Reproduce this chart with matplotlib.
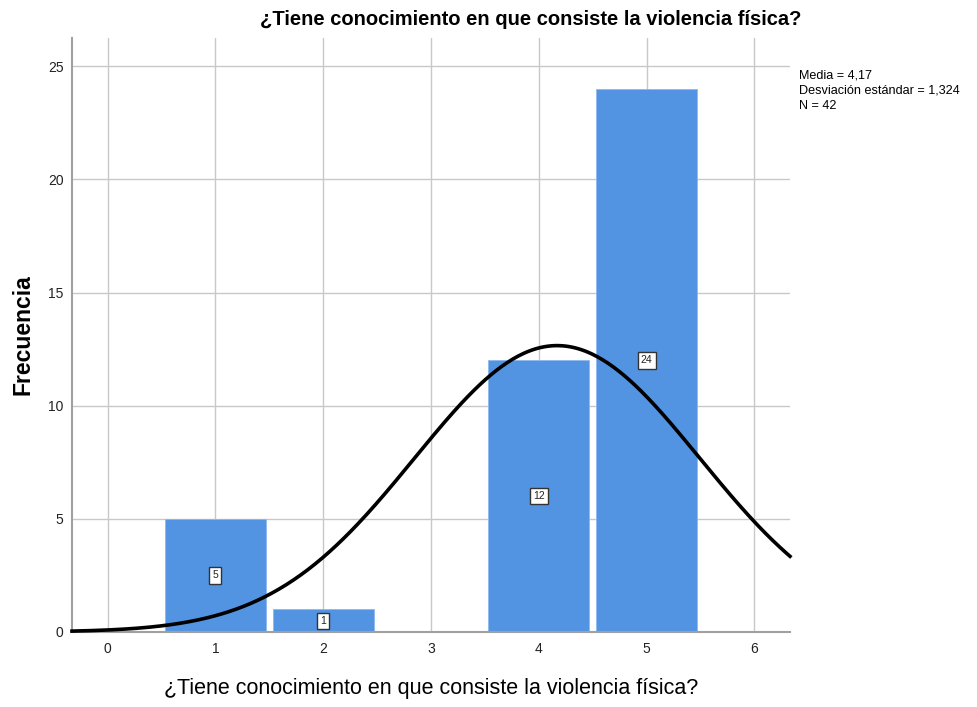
import numpy as np
import matplotlib.pyplot as plt

# Data: answer values and their frequencies
valores = [1, 2, 4, 5]
frecuencias = [5, 1, 12, 24]
media = 4.17
desv = 1.324
n = 42

titulo = "¿Tiene conocimiento en que consiste la violencia física?"

plt.rcParams["font.family"] = ["Liberation Sans", "DejaVu Sans"]

fig = plt.figure(figsize=(9.77, 7.07), dpi=100)
ax = fig.add_axes([0.0737, 0.1061, 0.8086 - 0.0737, 0.9463 - 0.1061])

# bars
ax.bar(valores, frecuencias, width=0.935, color="#5294E2",
       edgecolor="#8DB8EE", linewidth=0.6, zorder=2)

# value boxes in the middle of each bar
for v, f in zip(valores, frecuencias):
    ax.text(v, f / 2, str(f), ha="center", va="center", fontsize=7.5,
            color="#222222", zorder=4,
            bbox=dict(boxstyle="square,pad=0.3", fc="white", ec="#333333", lw=1))

# normal curve
xs = np.linspace(-0.33, 6.33, 400)
ys = n * np.exp(-0.5 * ((xs - media) / desv) ** 2) / (desv * np.sqrt(2 * np.pi))
ax.plot(xs, ys, color="black", linewidth=2.6, zorder=3, clip_on=False)

ax.set_xlim(-0.33, 6.33)
ax.set_ylim(0, 26.25)
ax.set_xticks(range(0, 7))
ax.set_yticks(range(0, 26, 5))
ax.grid(True, color="#C8C8C8", linewidth=1)
ax.set_axisbelow(True)
ax.tick_params(length=0, labelsize=10, colors="#222222")
ax.tick_params(axis="y", pad=6)
ax.tick_params(axis="x", pad=7)

for s in ["top", "right"]:
    ax.spines[s].set_visible(False)
for s in ["left", "bottom"]:
    ax.spines[s].set_color("#A0A0A0")
    ax.spines[s].set_linewidth(1.5)

ax.set_ylabel("Frecuencia", fontsize=16.5, fontweight="bold", labelpad=10)
ax.set_xlabel(titulo, fontsize=15.5, labelpad=16)

fig.text(0.5435, 0.972, titulo, ha="center", va="center", fontsize=14.5,
         fontweight="bold", family=["Liberation Sans Narrow", "Liberation Sans"])

fig.text(0.818, 0.902, "Media = 4,17\nDesviación estándar = 1,324\nN = 42",
         ha="left", va="top", fontsize=9.1, linespacing=1.38)

fig.savefig("out.png", dpi=100)
